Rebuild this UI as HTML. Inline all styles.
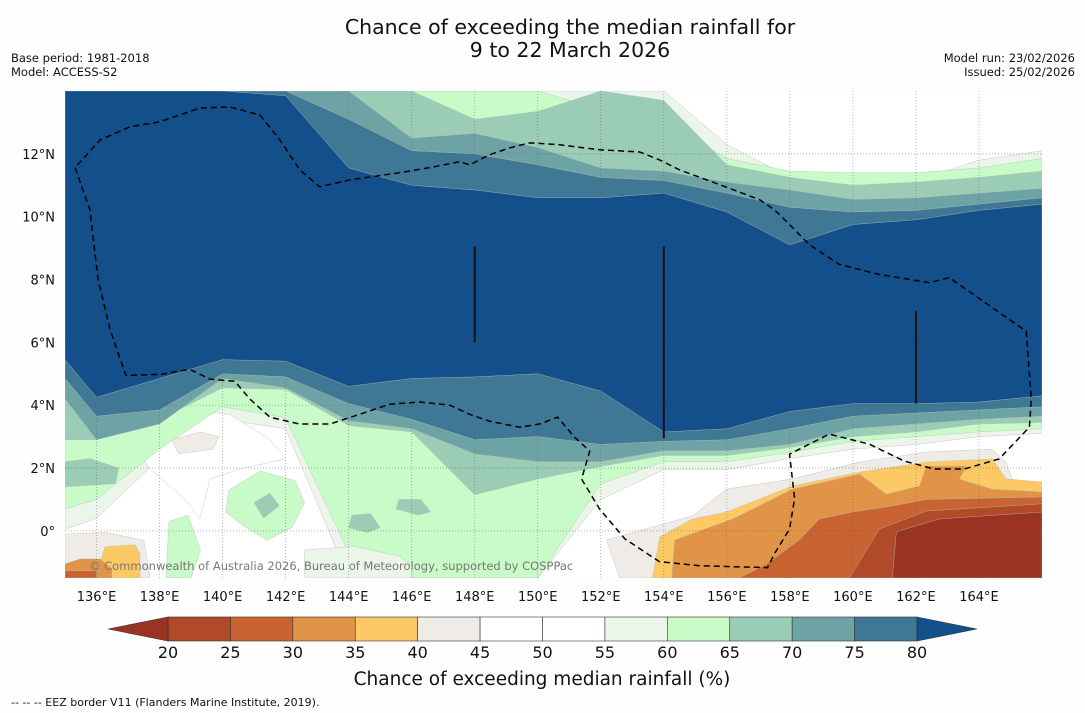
<!DOCTYPE html>
<html><head><meta charset="utf-8"><style>
html,body{margin:0;padding:0;background:#fefefe;}
svg{display:block;font-family:"DejaVu Sans","Liberation Sans",sans-serif;}
</style></head><body>
<svg id="chart" width="1085" height="713" viewBox="0 0 1085 713" xmlns="http://www.w3.org/2000/svg">
<defs><clipPath id="mapclip"><rect x="65" y="91" width="977" height="487"/></clipPath></defs>
<text x="570" y="34" font-size="20.5" text-anchor="middle" fill="#111">Chance of exceeding the median rainfall for</text>
<text x="570" y="57" font-size="20.5" text-anchor="middle" fill="#111">9 to 22 March 2026</text>
<text x="11" y="62" font-size="11.5" fill="#111">Base period: 1981-2018</text>
<text x="11" y="76" font-size="11.5" fill="#111">Model: ACCESS-S2</text>
<text x="1075" y="62" font-size="11.5" text-anchor="end" fill="#111">Model run: 23/02/2026</text>
<text x="1075" y="76" font-size="11.5" text-anchor="end" fill="#111">Issued: 25/02/2026</text>
<g id="map" clip-path="url(#mapclip)"></g>
<g id="axes"></g>
<g id="cbar"></g>
<text x="542" y="685" font-size="18.5" text-anchor="middle" fill="#111">Chance of exceeding median rainfall (%)</text>
<text x="11" y="706" font-size="11" fill="#111">--  --  -- EEZ border V11 (Flanders Marine Institute, 2019).</text>
</svg>
<script>
// ---- data ----
const lonTicks=[136,138,140,142,144,146,148,150,152,154,156,158,160,162,164];
const latTicks=[12,10,8,6,4,2,0];
const cbLevels=[20,25,30,35,40,45,50,55,60,65,70,75,80];
const cbColors=["#b04a28","#c96332","#e19447","#fdc964","#efebe7","#ffffff","#ffffff","#ebf5ea","#c8fbc8","#9bcdb6","#6ea3a6","#3f7895"];
const cbUnder="#9a3322", cbOver="#134f8a";
const bandLons=[135,136,138,140,142,144,146,148,150,152,154,156,158,160,162,164,166];
const top55=[14,14,14,14,14,14,14,14,14,14,14,12.3,11.25,11.15,11.15,11.8,12.1];
const bot55=[0.05,0.4,2.3,3.55,3.25,-1.5,-1.5,-1.5,-1.5,1.0,1.95,1.95,2.3,2.6,2.75,3.0,3.1];
const top60=[14,14,14,14,14,14,14,14,14,13.4,13.1,11.85,11.45,11.4,11.4,11.55,11.85];
const bot60=[0.7,1.0,2.6,3.95,3.6,-0.7,-1.5,-1.5,-1.5,1.5,2.2,2.2,2.5,2.85,3.0,3.15,3.25];
const top65=[14,14,14,14,14,14,14,13.1,13.35,14,13.7,11.65,11.25,11.0,11.1,11.25,11.45];
const bot65=[2.9,2.9,3.55,4.55,4.5,3.35,3.15,1.15,1.65,2.05,2.4,2.4,2.65,3.0,3.15,3.4,3.45];
const top70=[14,14,14,14,14,14,12.5,12.65,12.2,11.55,11.45,11.1,10.85,10.55,10.6,10.75,10.9];
const bot70=[4.2,2.9,3.4,4.85,4.55,3.5,3.25,2.45,2.2,2.2,2.55,2.55,2.75,3.25,3.4,3.55,3.65];
const top75=[14,14,14,14,14,13.1,12.1,12.0,11.65,11.25,11.15,10.75,10.3,10.15,10.2,10.4,10.6];
const bot75=[4.85,3.65,3.85,5.0,4.9,4.05,3.55,2.9,3.0,2.75,2.85,2.9,3.25,3.65,3.75,3.85,3.95];
const top80=[14,14,14,14,13.85,11.55,11.0,10.85,10.6,10.6,10.75,10.15,9.1,9.75,9.9,10.2,10.4];
const bot80=[5.45,4.25,4.85,5.45,5.4,4.6,4.85,4.9,5.0,4.45,3.15,3.25,3.8,4.05,4.05,4.1,4.3];
const dry40Lon=[152.18,154.91,155.99,158.08,160.21,162.33,164.42,164.86,165.06,166,166,152.6];
const dry40Lat=[-0.29,0.48,1.33,1.65,2.19,2.51,2.6,2.19,1.65,1.43,-1.5,-1.5];
const dry35Lon=[153.64,153.87,154.91,155.99,158.08,160.21,162.33,164.42,164.87,166,166];
const dry35Lat=[-1.5,-0.19,0.38,0.6,1.43,1.87,2.19,2.29,1.65,1.56,-1.5];
const dry30Lon=[154.25,154.34,156.18,158.08,160.21,161.06,162.11,162.33,163.6,163.38,164.42,166,166];
const dry30Lat=[-1.5,-0.29,0.38,1.33,1.81,1.17,1.43,2.06,2.06,1.65,1.33,1.24,-1.5];
const dry25Lon=[156.4,157.26,158.3,158.94,159.98,161.25,162.33,166,166];
const dry25Lat=[-1.5,-1.05,-0.29,0.38,0.6,0.79,1.0,1.08,-1.5];
const dry20Lon=[159.89,160.84,162.33,166,166];
const dry20Lat=[-1.5,0.06,0.63,0.86,-1.5];
const dry15Lon=[161.25,161.38,162.74,166,166];
const dry15Lat=[-1.5,-0.03,0.38,0.6,-1.5];
const sw40Lon=[135,136.3,137.5,137.7,135]; const sw40Lat=[-0.1,-0.05,-0.3,-1.5,-1.5];
const sw35Lon=[135.95,136.27,137.22,137.38,137.38]; const sw35Lat=[-1.5,-0.51,-0.44,-0.73,-1.5];
const sw30Lon=[135,135.48,136.11,136.49,136.49,135]; const sw30Lat=[-1.05,-0.89,-0.89,-1.2,-1.5,-1.5];
const sw25Lon=[135,136.0,136.0,135]; const sw25Lat=[-1.27,-1.27,-1.5,-1.5];
const wLon=[137.38,138.65,140.23,141.5,141.98,140.55,139.6,139.28,138.8,137.7,137.06];
const wLat=[3.56,3.87,3.71,2.92,2.29,1.97,1.65,0.38,1.02,1.97,2.92];
const w2Lon=[142.6,144.2,145.6,146.0,146.0,142.6]; const w2Lat=[-0.6,-0.5,-0.8,-1.1,-1.5,-1.5];
const p40Lon=[138.4,139.3,139.9,139.7,138.6]; const p40Lat=[2.9,3.15,3.0,2.6,2.45];
const p60Lon=[140.2,141.2,142.3,142.6,142.2,141.4,140.6,140.1]; const p60Lat=[1.3,1.9,1.6,0.9,0.1,-0.3,0.2,0.6];
const p60bLon=[138.3,138.9,139.3,139.0,138.2]; const p60bLat=[0.3,0.5,-0.6,-1.5,-1.5];
const p65Lon=[141.0,141.5,141.8,141.3]; const p65Lat=[0.9,1.2,0.8,0.4];
const p65bLon=[135,135.8,136.7,136.6,135]; const p65bLat=[2.2,2.3,2.0,1.5,1.4];
const p65cLon=[144.1,144.7,145.0,144.6,144.0]; const p65cLat=[0.5,0.55,0.1,-0.05,0.1];
const p65dLon=[145.6,146.3,146.6,146.2,145.5]; const p65dLat=[1.0,1.0,0.6,0.5,0.7];
const eezLon=[135.32,135.79,136.05,136.43,136.93,138.01,138.96,139.6,140.39,140.87,141.5,142.45,143.4,144.35,145.3,146.26,147.21,147.84,148.47,149.43,150.06,150.63,151.17,151.65,151.39,151.96,152.76,153.86,155.13,157.29,157.51,157.99,158.15,157.99,158.3,159.25,160.52,161.63,162.58,163.54,164.64,165.6,165.66,165.5,164.96,163.06,162.43,160.84,159.57,158.62,157.99,157.51,157.04,155.77,154.5,153.86,153.23,151.96,150.69,149.74,149.11,148.47,147.84,147.52,146.57,145.62,144.04,143.08,142.45,141.82,141.18,140.23,139.28,138.65,138.01,137.06,136.11,135.32];
const eezLat=[11.56,10.22,8.0,6.41,4.95,4.98,5.14,4.83,4.76,4.19,3.62,3.4,3.4,3.71,4.03,4.1,4.0,3.71,3.49,3.3,3.4,3.62,2.98,2.54,1.65,0.7,-0.25,-0.98,-1.11,-1.17,-0.73,0.06,1.02,2.44,2.6,3.08,2.76,2.22,1.97,1.97,2.29,3.3,4.19,6.35,6.73,8.06,7.9,8.16,8.48,9.11,9.75,10.22,10.54,11.02,11.49,11.81,12.06,12.13,12.29,12.35,12.19,11.97,11.65,11.75,11.56,11.4,11.17,10.95,11.49,12.44,13.24,13.49,13.46,13.24,13.02,12.86,12.44,11.56];
const barLon=[148,154,162]; const barLatTop=[9.05,9.05,7.0]; const barLatBot=[6.0,2.95,4.05];

// ---- axes ----
const X0=65,X1=1042,Y0=91,Y1=578,LON0=135,LON1=166,LAT0=14,LAT1=-1.5;
const xS=l=>X0+(l-LON0)/(LON1-LON0)*(X1-X0);
const yS=l=>Y0+(LAT0-l)/(LAT0-LAT1)*(Y1-Y0);
const NS="http://www.w3.org/2000/svg";
function mk(tag,parent,attrs){const e=document.createElementNS(NS,tag);for(const k in attrs)e.setAttribute(k,attrs[k]);parent.appendChild(e);return e;}
const map=document.getElementById('map'),axes=document.getElementById('axes'),cbar=document.getElementById('cbar');
mk('rect',map,{x:X0,y:Y0,width:X1-X0,height:Y1-Y0,fill:'#ffffff'});
function band(top,bot,color,name){
  let pts=bandLons.map((l,i)=>xS(l)+','+yS(top[i]));
  pts=pts.concat(bandLons.map((l,i)=>xS(l)+','+yS(bot[i])).reverse());
  const p=mk('polygon',map,{points:pts.join(' '),fill:color,stroke:'#bbb','stroke-width':0.4,'stroke-linejoin':'round'});
  
  
}
function poly(lons,lats,color,name){
  const p=mk('polygon',map,{points:lons.map((l,i)=>xS(l)+','+yS(lats[i])).join(' '),fill:color,stroke:'#bbb','stroke-width':0.4});
  
  
}
band(top55,bot55,cbColors[7],'contour-55-60');
poly(wLon,wLat,'#ffffff','contour-45-55-patch');
poly(p40Lon,p40Lat,cbColors[4],'contour-40-45-patch');
poly(p60Lon,p60Lat,cbColors[8],'contour-60-65-patch');
poly(p60bLon,p60bLat,cbColors[8],'contour-60-65-patch-b');
poly(p65Lon,p65Lat,cbColors[9],'contour-65-70-patch');
band(top60,bot60,cbColors[8],'contour-60-65');
poly(w2Lon,w2Lat,cbColors[7],'contour-55-60-patch');
poly(p65bLon,p65bLat,cbColors[9],'contour-65-70-patch-b');
poly(p65cLon,p65cLat,cbColors[9],'contour-65-70-patch-c');
poly(p65dLon,p65dLat,cbColors[9],'contour-65-70-patch-d');
band(top65,bot65,cbColors[9],'contour-65-70');
band(top70,bot70,cbColors[10],'contour-70-75');
band(top75,bot75,cbColors[11],'contour-75-80');
band(top80,bot80,cbOver,'contour-above-80');
poly(dry40Lon,dry40Lat,cbColors[4],'contour-40-45');
poly(dry35Lon,dry35Lat,cbColors[3],'contour-35-40');
poly(dry30Lon,dry30Lat,cbColors[2],'contour-30-35');
poly(dry25Lon,dry25Lat,cbColors[1],'contour-25-30');
poly(dry20Lon,dry20Lat,cbColors[0],'contour-20-25');
poly(dry15Lon,dry15Lat,cbUnder,'contour-below-20');
poly(sw40Lon,sw40Lat,cbColors[4],'contour-sw-40');
poly(sw35Lon,sw35Lat,cbColors[3],'contour-sw-35');
poly(sw30Lon,sw30Lat,cbColors[2],'contour-sw-30');
poly(sw25Lon,sw25Lat,cbColors[1],'contour-sw-25');
// gridlines
lonTicks.forEach(l=>{const g=mk('line',map,{x1:xS(l),x2:xS(l),y1:Y0,y2:Y1,stroke:'#555','stroke-width':0.7,'stroke-dasharray':'1,2',opacity:0.6});
 
 });
latTicks.forEach(l=>{const g=mk('line',map,{x1:X0,x2:X1,y1:yS(l),y2:yS(l),stroke:'#555','stroke-width':0.7,'stroke-dasharray':'1,2',opacity:0.6});
 
 });
// black bars
barLon.forEach((l,i)=>{const b=mk('line',map,{x1:xS(l),x2:xS(l),y1:yS(barLatTop[i]),y2:yS(barLatBot[i]),stroke:'#111','stroke-width':2});
 
 });
// EEZ border
const eez=mk('polyline',map,{points:eezLon.map((l,i)=>xS(l)+','+yS(eezLat[i])).join(' '),fill:'none',stroke:'#000','stroke-width':1.5,'stroke-dasharray':'6,4'});


const cp=mk('text',map,{x:89,y:570,'font-size':11.5,fill:'#777'});
cp.textContent='© Commonwealth of Australia 2026, Bureau of Meteorology, supported by COSPPac';


// tick labels
lonTicks.forEach(l=>{const t=mk('text',axes,{x:xS(l),y:601,'font-size':13,'text-anchor':'middle',fill:'#111'});t.textContent=l+'°E';
 
 });
latTicks.forEach(l=>{const t=mk('text',axes,{x:55,y:yS(l)+5,'font-size':13,'text-anchor':'end',fill:'#111'});t.textContent=l===0?'0°':l+'°N';
 
 });
// colorbar
const CB0=168,CB1=917,CBY=617,CBH=24;
const cx=v=>CB0+(v-cbLevels[0])/(cbLevels[cbLevels.length-1]-cbLevels[0])*(CB1-CB0);
cbColors.forEach((c,i)=>{const r=mk('rect',cbar,{x:cx(cbLevels[i]),y:CBY,width:cx(cbLevels[i+1])-cx(cbLevels[i]),height:CBH,fill:c,stroke:'#333','stroke-width':0.6});
 
 });
const tl=mk('polygon',cbar,{points:`${CB0},${CBY} 108,${CBY+CBH/2} ${CB0},${CBY+CBH}`,fill:cbUnder,stroke:'#333','stroke-width':0.6});


const tr=mk('polygon',cbar,{points:`${CB1},${CBY} 977,${CBY+CBH/2} ${CB1},${CBY+CBH}`,fill:cbOver,stroke:'#333','stroke-width':0.6});


cbLevels.forEach(v=>{const t=mk('text',cbar,{x:cx(v),y:658,'font-size':16,'text-anchor':'middle',fill:'#111'});t.textContent=v;
 
 });
</script>
</body></html>
